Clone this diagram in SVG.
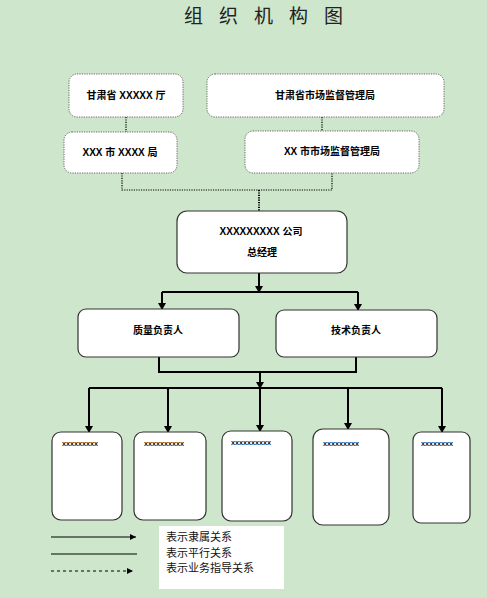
<svg xmlns="http://www.w3.org/2000/svg" width="487" height="598" viewBox="0 0 487 598">
<style>
.bg{fill:#cee6cb}
.dbox{fill:#fff;stroke:#666;stroke-width:1;stroke-dasharray:1.2 1.2}
.box{fill:#fff;stroke:#333;stroke-width:1.2}
.t{font-family:"Liberation Sans","Noto Sans CJK SC",sans-serif;font-size:10px;font-weight:bold;fill:#000;text-anchor:middle}
.tiny{font-family:"Liberation Sans",sans-serif;font-size:6px;font-weight:bold;fill:#000}
.title{font-family:"Noto Sans CJK SC",sans-serif;font-size:19px;fill:#222;letter-spacing:16px}
.lg{font-family:"Noto Sans CJK SC",sans-serif;font-size:11px;fill:#111}
.dot{fill:none;stroke:#000;stroke-width:1.2;stroke-dasharray:1.2 1.2}
.sol{fill:none;stroke:#000;stroke-width:2}
.thin{fill:none;stroke:#000;stroke-width:1}
</style>
<defs>
<marker id="ah" markerWidth="8" markerHeight="8" refX="6" refY="4" orient="auto" markerUnits="userSpaceOnUse">
<path d="M0,0 L7,4 L0,8 Z" fill="#000"/>
</marker>
<marker id="ahs" markerWidth="7" markerHeight="6" refX="6" refY="3" orient="auto" markerUnits="userSpaceOnUse">
<path d="M0,0 L6,3 L0,6 Z" fill="#000"/>
</marker>
</defs>
<rect class="bg" x="0" y="0" width="487" height="598"/>
<text class="title" x="184" y="23">组织机构图</text>

<g id="connectors">
<path class="dot" d="M126,117 V132"/>
<path class="dot" d="M322,117 V131"/>
<path class="dot" d="M122,173 V190 H332 V173"/>
<path class="dot" d="M259,190 V211" style="stroke-width:2"/>
<path class="sol" d="M259,273 V292" marker-end="url(#ah)"/>
<path class="sol" d="M162,292 H358"/>
<path class="sol" d="M162,292 V309" marker-end="url(#ah)"/>
<path class="sol" d="M358,292 V310" marker-end="url(#ah)"/>
<path class="sol" d="M159,357 V372 H356 V357"/>
<path class="sol" d="M260,372 V388" marker-end="url(#ah)"/>
<path class="sol" d="M89,388 H442"/>
<path class="sol" d="M89,388 V432" marker-end="url(#ah)"/>
<path class="sol" d="M168,388 V432" marker-end="url(#ah)"/>
<path class="sol" d="M260,388 V431" marker-end="url(#ah)"/>
<path class="sol" d="M348,388 V429" marker-end="url(#ah)"/>
<path class="sol" d="M442,388 V432" marker-end="url(#ah)"/>
</g>

<g id="n1"><rect class="dbox" x="69" y="74" width="114" height="43" rx="8"/><text class="t" x="126" y="99">甘肃省 XXXXX 厅</text></g>
<g id="n2"><rect class="dbox" x="207" y="74" width="237" height="43" rx="8"/><text class="t" x="325" y="99">甘肃省市场监督管理局</text></g>
<g id="n3"><rect class="dbox" x="64" y="132" width="113" height="41" rx="8"/><text class="t" x="120" y="156">XXX 市 XXXX 局</text></g>
<g id="n4"><rect class="dbox" x="245" y="131" width="174" height="42" rx="8"/><text class="t" x="332" y="155">XX 市市场监督管理局</text></g>
<g id="n5"><rect class="box" x="177" y="211" width="170" height="62" rx="10"/><text class="t" x="261" y="235">XXXXXXXXX 公司</text><text class="t" x="262" y="256">总经理</text></g>
<g id="n6"><rect class="box" x="78" y="309" width="161" height="48" rx="8"/><text class="t" x="158" y="334">质量负责人</text></g>
<g id="n7"><rect class="box" x="276" y="310" width="161" height="47" rx="8"/><text class="t" x="356" y="334">技术负责人</text></g>
<g id="n8"><rect class="box" x="52" y="432" width="70" height="88" rx="9"/><text class="tiny" x="62" y="446">XXXXXXXXX</text></g>
<g id="n9"><rect class="box" x="134" y="432" width="72" height="88" rx="9"/><text class="tiny" x="144" y="446">XXXXXXXXXX</text></g>
<g id="n10"><rect class="box" x="222" y="431" width="70" height="90" rx="9"/><text class="tiny" x="231" y="445">XXXXXXXXXX</text></g>
<g id="n11"><rect class="box" x="313" y="429" width="76" height="96" rx="10"/><text class="tiny" x="323" y="446">XXXXXXXXX</text></g>
<g id="n12"><rect class="box" x="413" y="432" width="57" height="91" rx="8"/><text class="tiny" x="421" y="446">XXXXXXXX</text></g>

<g id="legend">
<rect x="159" y="526" width="125" height="63" fill="#fff"/>
<path class="thin" d="M51,537 H136" marker-end="url(#ahs)"/>
<path class="thin" d="M51,554 H137"/>
<path class="thin" d="M51,571 H133" stroke-dasharray="3 3" marker-end="url(#ahs)"/>
<text class="lg" x="166" y="541">表示隶属关系</text>
<text class="lg" x="166" y="557">表示平行关系</text>
<text class="lg" x="166" y="572">表示业务指导关系</text>
</g>
</svg>
